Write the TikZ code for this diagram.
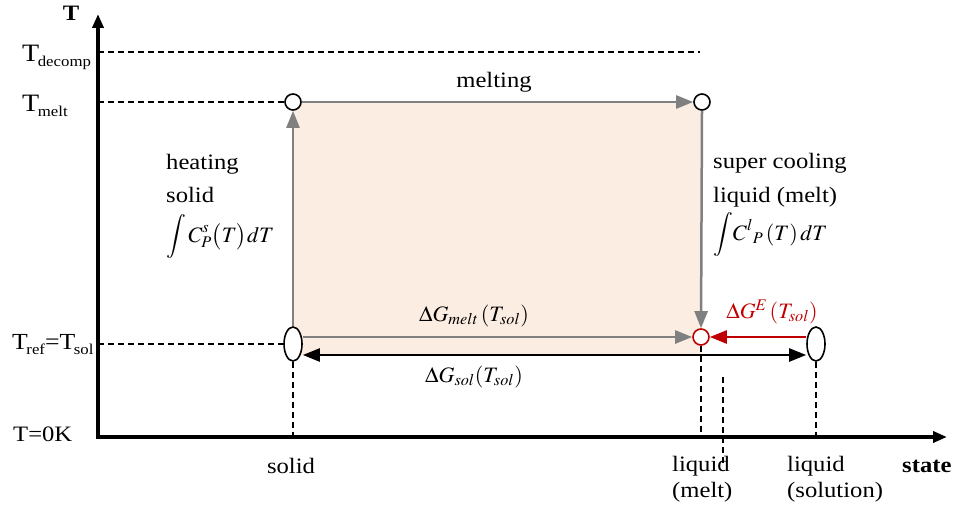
\documentclass[tikz,border=0pt]{standalone}
\usepackage{mathptmx}
\usepackage[no-math]{fontspec}
\setmainfont{Liberation Serif}[FakeStretch=1.12]
\usetikzlibrary{arrows.meta,shapes.geometric,calc}
\definecolor{pdgray}{RGB}{128,128,128}
\definecolor{pdred}{RGB}{192,0,0}
\definecolor{pdfill}{RGB}{252,237,227}
\newcommand{\lowsub}[1]{\kern-1.5pt\raisebox{-5pt}{\fontsize{15}{15}\selectfont #1}}
\tikzset{
  pd axis/.style={
    line width=3.5pt,
    {Triangle[length=14pt,width=11pt]}-{Triangle[length=14pt,width=11pt]},
  },
  pd guide/.style={line width=1.4pt, dash pattern=on 6pt off 4pt},
  pd step/.style={
    line width=2.5pt,
    draw=pdgray,
    -{Triangle[length=17pt,width=13pt]},
  },
  pd sum/.style={
    line width=2.5pt,
    {Triangle[length=17pt,width=13pt]}-{Triangle[length=17pt,width=13pt]},
  },
  pd excess/.style={
    line width=2.5pt,
    draw=pdred,
    -{Triangle[length=17pt,width=13pt]},
  },
  pd point/.style={
    circle,
    draw,
    fill=white,
    line width=1.6pt,
    minimum size=16pt,
    inner sep=0pt,
  },
  pd state/.style={
    ellipse,
    draw,
    fill=white,
    line width=1.6pt,
    minimum width=18pt,
    minimum height=34pt,
    inner sep=0pt,
  },
  pd text/.style={font=\fontsize{22}{26}\selectfont, inner sep=0pt},
  pd tlabel/.style={font=\fontsize{24}{28}\selectfont, inner sep=0pt},
}

\begin{document}
\begin{tikzpicture}[x=1pt, y=-1pt]
  \useasboundingbox (0,0) rectangle (957,516);

  % shaded cycle area
  \fill[pdfill] (293,102) rectangle (702,355);

  % axes
  \coordinate (o) at (98,437);
  \coordinate (ytip) at (98,14);
  \coordinate (xtip) at (947,437);
  \draw[pd axis] (ytip) -- (o) -- (xtip);
  \node[font=\fontsize{22}{24}\selectfont\bfseries, inner sep=0pt, anchor=base] (ylab) at (71,21) {T};
  \node[pd text, font=\fontsize{22}{26}\selectfont\bfseries, anchor=base west] (xlab) at (902,472) {state};

  % states
  \node[pd point] (tm1) at (293,102) {};
  \node[pd point] (tm2) at (702,102) {};
  \node[pd state] (sol) at (293,344) {};
  \node[pd point, draw=pdred] (melt) at (701,337) {};
  \node[pd state] (soln) at (816,344) {};

  % temperature levels
  \coordinate (dec) at (700,52);
  \node[pd tlabel, font=\fontsize{25}{28}\selectfont, anchor=base west] (tdec) at (22,62) {T\lowsub{decomp}};
  \node[pd tlabel, font=\fontsize{25}{28}\selectfont, anchor=base west] (tmelt) at (22,112) {T\lowsub{melt}};
  \node[pd tlabel, font=\fontsize{23}{28}\selectfont, anchor=base west] (tref) at (12,349) {T\lowsub{ref}=T\lowsub{sol}};
  \node[pd text, anchor=base west] (tzero) at (13,441) {T=0K};

  \draw[pd guide] (o |- dec) -- (dec);
  \draw[pd guide] (o |- tm1) -- (tm1.west);
  \draw[pd guide] (o |- sol) -- (sol.west);
  \draw[pd guide] (sol.south) -- (sol.south |- o);
  \draw[pd guide] (melt.south) -- (melt.south |- o);
  \draw[pd guide] (soln.south) -- (soln.south |- o);
  \coordinate (gtop) at (723,377);
  \coordinate (gbot) at (723,463);
  \draw[pd guide] (gtop) -- (gbot);

  % path steps
  \draw[pd step] (sol.north) -- (tm1.south);
  \draw[pd step] (tm1.east) -- (tm2.west);
  \draw[pd step] (tm2.south) -- (melt.north);
  \draw[pd step] (sol.east |- melt.west) -- (melt.west);
  \draw[pd sum] ([yshift=-11pt]sol.east) -- ([yshift=-11pt]soln.west);
  \draw[pd excess] (soln.west |- melt.east) -- (melt.east);

  % labels
  \node[pd text, anchor=base] (lmelt) at (494,88) {melting};
  \node[pd text, font=\fontsize{22}{33}\selectfont, anchor=base west, align=left] (lheat) at (166,242)
    {heating\\solid\\[7pt]$\displaystyle\int C_P^{s}\bigl(T\bigr)dT$};
  \node[pd text, font=\fontsize{22}{34}\selectfont, anchor=base west, align=left] (lcool) at (713,240)
    {super cooling\\liquid (melt)\\[4pt]$\displaystyle\int\! C^{l}{}_{P}\,(T)\,dT$};
  \node[pd text, anchor=base] (lgmelt) at (474,321) {$\Delta G_{melt}\,(T_{sol})$};
  \node[pd text, anchor=base] (lgsol) at (474,382) {$\Delta G_{sol}(T_{sol})$};
  \node[pd text, text=pdred, anchor=base] (lgex) at (772,318) {$\Delta G^{E}\,(T_{sol})$};

  \node[pd text, anchor=base] (lsolid) at (291,473) {solid};
  \node[pd text, anchor=base west, align=left] (lliq) at (672,497) {liquid\\(melt)};
  \node[pd text, anchor=base west, align=left] (lsoln) at (787,497) {liquid\\(solution)};
\end{tikzpicture}
\end{document}
